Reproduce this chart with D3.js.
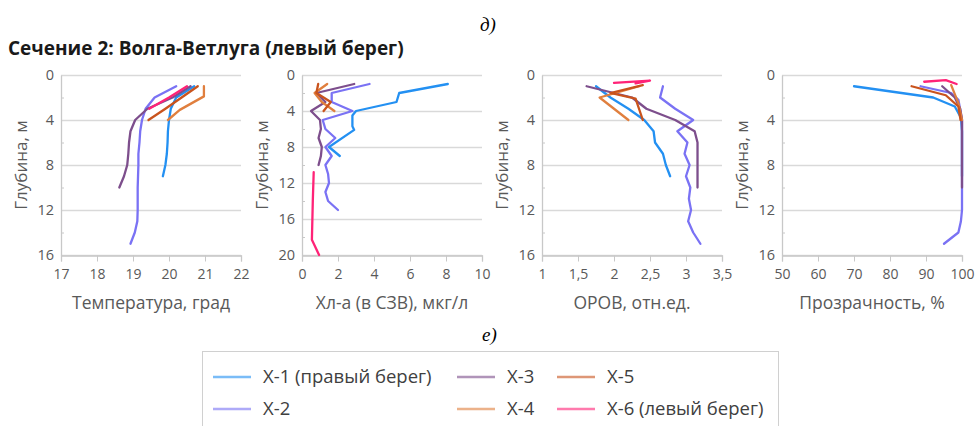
<!DOCTYPE html>
<meta charset="utf-8">
<script src="https://d3js.org/d3.v7.min.js"></script>
<style>
  body { margin: 0; background: #fff; }
  text { font-family: "Open Sans", sans-serif; }
</style>
<div id="viz"></div>
<script>
// station names and colours (legend order)
const stations = ["X-1 (правый берег)", "X-2", "X-3", "X-4", "X-5", "X-6 (левый берег)"];
const colors = ["#2390f2", "#7a72f4", "#7d4e8c", "#e07f3e", "#c9531d", "#ff2377"];

// each station: list of [value, depth]
const temperature = [
  [[20.7,1],[20.2,2],[20.05,3],[20.0,4],[19.97,5],[19.96,6],[19.94,7],[19.9,8],[19.83,9]],
  [[20.2,1],[19.6,2],[19.35,3],[19.25,4],[19.2,5],[19.18,6],[19.15,7],[19.15,8],[19.14,9],[19.13,10],[19.13,11],[19.13,12],[19.12,13],[19.05,14],[18.93,15]],
  [[20.6,1],[20.1,2],[19.4,3],[19.06,4],[18.93,5],[18.89,6],[18.87,7],[18.84,8],[18.75,9],[18.62,10]],
  [[20.97,1],[20.97,1.9],[20.3,3.1],[19.97,4]],
  [[20.8,1],[20.35,2],[19.9,3],[19.43,4]],
  [[20.5,1],[20.0,2],[19.45,3]]
];
const chlorophyll = [
  [[8.1,1],[5.4,2],[5.25,3],[3.0,4],[2.8,4.5],[2.8,5.7],[2.9,6.1],[1.5,8],[2.1,9]],
  [[3.75,1],[1.65,2],[1.65,3],[2.8,4],[1.15,5],[1.3,6],[1.85,7],[1.3,8],[1.65,9],[1.3,10],[1.45,11],[1.5,12],[1.3,13],[1.45,14],[2.0,15]],
  [[2.9,1],[0.8,2],[1.3,3],[0.5,4],[1.0,5],[1.05,6],[0.92,7],[1.1,8],[1.05,9],[0.92,10]],
  [[1.4,1],[0.7,2],[1.1,3],[1.8,4]],
  [[0.9,1],[0.8,2],[1.6,3],[1.2,4]],
  [[0.65,10.8],[0.6,14],[0.55,18.3],[0.95,20]]
];
const orov = [
  [[1.75,1],[1.95,2],[2.2,3],[2.42,4],[2.55,5],[2.57,6],[2.68,7],[2.72,8],[2.78,9]],
  [[2.68,1],[2.64,2],[2.85,3],[3.1,4],[2.88,5],[3.02,6],[2.98,7],[3.05,8],[3.0,9],[3.06,10],[3.04,11],[3.07,12],[3.03,13],[3.1,14],[3.2,15]],
  [[1.62,1],[2.25,2],[2.45,3],[2.85,4],[3.12,5],[3.16,6],[3.16,7],[3.16,8],[3.16,9],[3.16,10]],
  [[2.35,1],[1.8,2],[2.0,3],[2.2,4]],
  [[2.4,0.9],[1.95,1.6],[2.3,2.1],[2.4,4]],
  [[2.0,0.7],[2.5,0.5],[2.3,0.75]]
];
const transparency = [
  [[70,1],[92,2],[98,2.8],[99.7,3.8],[100,5],[100,6],[100,7],[100,8],[100,9]],
  [[88.5,1],[97,1.6],[99,2.2],[100,4],[100,5],[100,6],[100,7],[100,8],[100,9],[100,10],[100,11],[100,12],[99.7,13],[99,14],[95,15]],
  [[94.5,1],[98,2],[99.5,3],[100,4],[100,5],[100,6],[100,7],[100,8],[100,9],[100,10]],
  [[97,0.9],[99,2.5],[100,4]],
  [[86,1],[95.5,1.8],[99,2.8],[99.6,4]],
  [[89.5,0.6],[95.5,0.45],[98.5,0.8]]
];

// axis tick labels
const tempTicks = [17, 18, 19, 20, 21, 22];
const chlTicks = [0, 2, 4, 6, 8, 10];
const orovTicks = [1, 1.5, 2, 2.5, 3, 3.5];
const trTicks = [50, 60, 70, 80, 90, 100];
const depth16 = [0, 4, 8, 12, 16];
const depth20 = [0, 4, 8, 12, 16, 20];

const panels = [
  {data: temperature, xt: tempTicks, yt: depth16, left: 61, title: "Температура, град"},
  {data: chlorophyll, xt: chlTicks, yt: depth20, left: 302, title: "Хл-а (в СЗВ), мкг/л"},
  {data: orov, xt: orovTicks, yt: depth16, left: 542, title: "ОРОВ, отн.ед."},
  {data: transparency, xt: trTicks, yt: depth16, left: 782, title: "Прозрачность, %"}
];

const W = 977, H = 426;
const plotTop = 75, pw = 180, ph = 180;
const fmt = d => String(d).replace(".", ",");

const svg = d3.select("#viz").append("svg")
  .attr("width", W).attr("height", H);

svg.append("text").attr("x", 480).attr("y", 31)
  .style("font-family", "'Liberation Serif', serif").style("font-style", "italic")
  .style("font-size", "19px").attr("fill", "#000").text("д)");

svg.append("text").attr("x", 8).attr("y", 55)
  .style("font-size", "19px").style("font-weight", "bold")
  .attr("fill", "#1a1a1a").text("Сечение 2: Волга-Ветлуга (левый берег)");

panels.forEach(p => {
  const x = d3.scaleLinear().domain(d3.extent(p.xt)).range([0, pw]);
  const y = d3.scaleLinear().domain(d3.extent(p.yt)).range([0, ph]);
  const g = svg.append("g").attr("transform", `translate(${p.left},${plotTop})`);

  // horizontal gridlines
  g.selectAll(".grid").data(p.yt).join("line")
    .attr("x1", 0).attr("x2", pw)
    .attr("y1", d => y(d) + 0.5).attr("y2", d => y(d) + 0.5)
    .attr("stroke", "#d9d9d9").attr("stroke-width", 1.3);

  // minor ticks on depth axis
  const yStep = p.yt[1] - p.yt[0];
  const minor = p.yt.slice(0, -1).map(d => d + yStep / 2);
  g.selectAll(".minor").data(minor).join("line")
    .attr("x1", 0).attr("x2", 3)
    .attr("y1", d => y(d) + 0.5).attr("y2", d => y(d) + 0.5)
    .attr("stroke", "#c8c8c8");

  // y axis
  const ya = g.append("g").call(d3.axisLeft(y).tickValues(p.yt).tickSize(0).tickPadding(7));
  ya.select(".domain").attr("stroke", "#c8c8c8").attr("stroke-width", 1.3);
  ya.selectAll("text").style("font-size", "14.5px").attr("fill", "#595959")
    .style("font-family", "'Open Sans', sans-serif");

  // x axis
  const xa = g.append("g").attr("transform", `translate(0,${ph + 0.5})`)
    .call(d3.axisBottom(x).tickValues(p.xt).tickFormat(fmt).tickSize(6).tickPadding(8));
  xa.select(".domain").attr("stroke", "#c8c8c8").attr("stroke-width", 1.3);
  xa.selectAll("line").attr("stroke", "#c8c8c8");
  xa.selectAll("text").style("font-size", "14px").attr("fill", "#595959")
    .style("font-family", "'Open Sans', sans-serif");

  // axis titles
  g.append("text").attr("x", pw / 2).attr("y", ph + 54)
    .attr("text-anchor", "middle").style("font-size", "17.5px")
    .attr("fill", "#595959").text(p.title);
  g.append("text")
    .attr("transform", `translate(-34,${ph / 2}) rotate(-90)`)
    .attr("text-anchor", "middle").style("font-size", "17px")
    .attr("fill", "#595959").text("Глубина, м");

  // station profiles
  const line = d3.line().x(d => x(d[0])).y(d => y(d[1]));
  g.selectAll(".profile").data(p.data).join("path")
    .attr("d", line)
    .attr("fill", "none")
    .attr("stroke", (d, i) => colors[i])
    .attr("stroke-width", 2.3)
    .attr("stroke-linejoin", "round")
    .attr("stroke-linecap", "round");
});

svg.append("text").attr("x", 482).attr("y", 341)
  .style("font-family", "'Liberation Serif', serif").style("font-style", "italic")
  .style("font-size", "19px").attr("fill", "#000").text("е)");

// legend
const legend = svg.append("g");
legend.append("rect").attr("x", 202.5).attr("y", 351.5)
  .attr("width", 576).attr("height", 100)
  .attr("fill", "#fff").attr("stroke", "#d0d0d0");

const colX = [213, 457, 557];
const rowY = [377, 409];
stations.forEach((s, i) => {
  const cx = colX[Math.floor(i / 2)], cy = rowY[i % 2];
  const item = legend.append("g").attr("transform", `translate(${cx},${cy})`);
  item.append("line").attr("x1", 0).attr("x2", 38)
    .attr("stroke", colors[i]).attr("stroke-width", 2.5).attr("opacity", 0.6);
  item.append("text").attr("x", 50).attr("dy", "0.35em")
    .style("font-size", "18.5px").attr("fill", "#404040").text(s);
});
</script>
